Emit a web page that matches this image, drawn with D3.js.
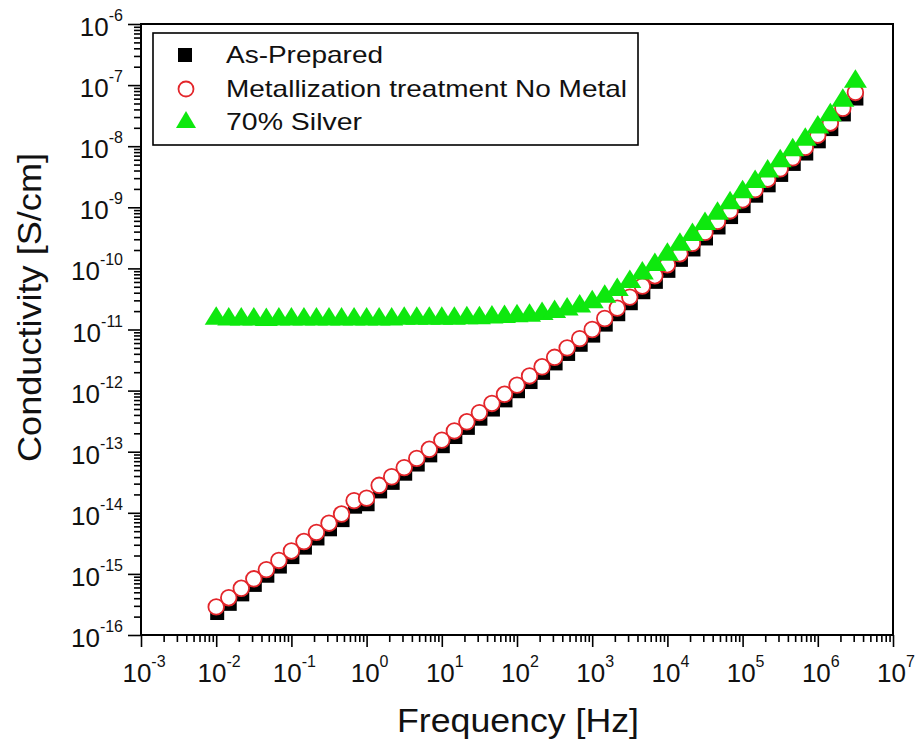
<!DOCTYPE html>
<html>
<head>
<meta charset="utf-8">
<script src="https://cdn.jsdelivr.net/npm/d3@7/dist/d3.min.js"></script>
<style>
  html, body { margin: 0; padding: 0; background: #fff; }
  svg { display: block; font-family: "Liberation Sans", Arial, sans-serif; }
</style>
</head>
<body>
<svg id="chart" width="915" height="751"></svg>
<script>
// ---- data ----
const frequencyHz = [
  0.01, 0.01468, 0.02154, 0.03162, 0.04642, 0.06813,
  0.1, 0.1468, 0.2154, 0.3162, 0.4642, 0.6813,
  1, 1.468, 2.154, 3.162, 4.642, 6.813,
  10, 14.68, 21.54, 31.62, 46.42, 68.13,
  100, 146.8, 215.4, 316.2, 464.2, 681.3,
  1000, 1468, 2154, 3162, 4642, 6813,
  1e4, 1.468e4, 2.154e4, 3.162e4, 4.642e4, 6.813e4,
  1e5, 1.468e5, 2.154e5, 3.162e5, 4.642e5, 6.813e5,
  1e6, 1.468e6, 2.154e6, 3.162e6
];
// log10 of conductivity [S/cm]
const logAsPrepared = [
  -15.64,-15.49,-15.335,-15.18,-15.03,-14.88,
  -14.725,-14.57,-14.42,-14.27,-14.12,-13.90,
  -13.86,-13.65,-13.51,-13.36,-13.21,-13.06,
  -12.91,-12.76,-12.61,-12.46,-12.31,-12.16,
  -12.01,-11.86,-11.71,-11.555,-11.40,-11.25,
  -11.10,-10.92,-10.75,-10.57,-10.39,-10.22,
  -10.04,-9.86,-9.69,-9.51,-9.33,-9.16,
  -8.98,-8.81,-8.64,-8.47,-8.29,-8.12,
  -7.92,-7.72,-7.48,-7.22
];
const logNoMetal = [
  -15.54,-15.39,-15.235,-15.08,-14.93,-14.78,
  -14.625,-14.47,-14.32,-14.17,-14.02,-13.80,
  -13.76,-13.55,-13.41,-13.26,-13.11,-12.96,
  -12.81,-12.66,-12.51,-12.36,-12.21,-12.06,
  -11.91,-11.76,-11.61,-11.455,-11.30,-11.15,
  -11.00,-10.82,-10.65,-10.47,-10.29,-10.12,
  -9.94,-9.76,-9.59,-9.41,-9.23,-9.06,
  -8.88,-8.71,-8.54,-8.37,-8.19,-8.02,
  -7.82,-7.62,-7.38,-7.12
];
const logSilver70 = [
  -10.80,-10.81,-10.81,-10.81,-10.82,-10.81,
  -10.81,-10.81,-10.81,-10.81,-10.81,-10.81,
  -10.81,-10.81,-10.81,-10.80,-10.80,-10.80,
  -10.80,-10.80,-10.79,-10.79,-10.78,-10.77,
  -10.76,-10.75,-10.72,-10.69,-10.65,-10.60,
  -10.53,-10.44,-10.33,-10.20,-10.06,-9.92,
  -9.75,-9.59,-9.43,-9.25,-9.08,-8.91,
  -8.73,-8.56,-8.39,-8.22,-8.04,-7.87,
  -7.67,-7.47,-7.23,-6.92
];
const xTickExponents = [-3,-2,-1,0,1,2,3,4,5,6,7];
const yTickExponents = [-16,-15,-14,-13,-12,-11,-10,-9,-8,-7,-6];
const seriesNames = ["As-Prepared", "Metallization treatment No Metal", "70% Silver"];
const xTitle = "Frequency [Hz]";
const yTitle = "Conductivity [S/cm]";

// ---- layout ----
const svg = d3.select("#chart");
const L = 141, R = 893, T = 24, B = 635;
const x = d3.scaleLog().domain([1e-3, 1e7]).range([L, R]);
const y = d3.scaleLog().domain([1e-16, 1e-6]).range([B, T]);

const GREEN = "#0ee80e", RED = "#e3262b";

// minor tick values
function minors(exps) {
  const out = [];
  for (let i = 0; i < exps.length - 1; i++)
    for (let m = 2; m <= 9; m++) out.push(m * Math.pow(10, exps[i]));
  return out;
}

// axes
const xMajor = xTickExponents.map(e => Math.pow(10, e));
const yMajor = yTickExponents.map(e => Math.pow(10, e));

const gx = svg.append("g").attr("transform", `translate(0,${B})`);
gx.call(d3.axisBottom(x).tickValues(xMajor).tickFormat("").tickSize(12).tickSizeOuter(0));
const gxm = svg.append("g").attr("transform", `translate(0,${B})`);
gxm.call(d3.axisBottom(x).tickValues(minors(xTickExponents)).tickFormat("").tickSize(7).tickSizeOuter(0));

const gy = svg.append("g").attr("transform", `translate(${L},0)`);
gy.call(d3.axisLeft(y).tickValues(yMajor).tickFormat("").tickSize(13).tickSizeOuter(0));
const gym = svg.append("g").attr("transform", `translate(${L},0)`);
gym.call(d3.axisLeft(y).tickValues(minors(yTickExponents)).tickFormat("").tickSize(7).tickSizeOuter(0));

[gx, gxm, gy, gym].forEach(g => {
  g.selectAll(".domain").remove();
  g.selectAll(".tick line").attr("stroke", "#000").attr("stroke-width", 1.6);
});

// frame
svg.append("rect").attr("x", L).attr("y", T).attr("width", R - L).attr("height", B - T)
  .attr("fill", "none").attr("stroke", "#000").attr("stroke-width", 2);

// tick labels
xTickExponents.forEach(e => {
  const t = svg.append("text").attr("x", x(Math.pow(10, e)) + 3).attr("y", 682)
    .attr("text-anchor", "middle").attr("font-size", 26).attr("fill", "#111");
  t.append("tspan").text("10");
  t.append("tspan").attr("dy", -15).attr("font-size", 16).text(String(e));
});
yTickExponents.forEach(e => {
  const t = svg.append("text").attr("x", 123).attr("y", y(Math.pow(10, e)) + 12)
    .attr("text-anchor", "end").attr("font-size", 26).attr("fill", "#111");
  t.append("tspan").text("10");
  t.append("tspan").attr("dy", -15).attr("font-size", 16).text(String(e));
});

// axis titles
svg.append("text").attr("x", 397).attr("y", 732).attr("font-size", 34).attr("fill", "#111")
  .attr("textLength", 242).attr("lengthAdjust", "spacingAndGlyphs").text(xTitle);
svg.append("text").attr("transform", "translate(41,462) rotate(-90)").attr("font-size", 34)
  .attr("fill", "#111").attr("textLength", 309).attr("lengthAdjust", "spacingAndGlyphs").text(yTitle);

// data
const toPts = logs => frequencyHz.map((f, i) => ({ f, s: Math.pow(10, logs[i]) }));
const SQ = 14;
svg.append("g").selectAll("rect").data(toPts(logAsPrepared)).join("rect")
  .attr("x", d => x(d.f) - SQ / 2 + 1).attr("y", d => y(d.s) - SQ / 2)
  .attr("width", SQ).attr("height", SQ).attr("fill", "#000");

svg.append("g").selectAll("circle").data(toPts(logNoMetal)).join("circle")
  .attr("cx", d => x(d.f)).attr("cy", d => y(d.s)).attr("r", 7.8)
  .attr("fill", "#fff").attr("stroke", RED).attr("stroke-width", 1.8);

const tri = "M0,-11L11.5,7.5L-11.5,7.5Z";
svg.append("g").selectAll("path").data(toPts(logSilver70)).join("path")
  .attr("transform", d => `translate(${x(d.f)},${y(d.s)})`)
  .attr("d", tri).attr("fill", GREEN);

// legend
const lg = svg.append("g");
lg.append("rect").attr("x", 153).attr("y", 33).attr("width", 485).attr("height", 112)
  .attr("fill", "#fff").attr("stroke", "#000").attr("stroke-width", 1.6);
const rows = [55, 89, 122];
lg.append("rect").attr("x", 185 - 7).attr("y", rows[0] - 7).attr("width", 14).attr("height", 14).attr("fill", "#000");
lg.append("circle").attr("cx", 186).attr("cy", rows[1]).attr("r", 7.5).attr("fill", "#fff")
  .attr("stroke", RED).attr("stroke-width", 1.8);
lg.append("path").attr("transform", `translate(186,${rows[2] - 1})`).attr("d", "M0,-10L10,7L-10,7Z").attr("fill", GREEN);
const legendWidths = [157, 401, 136];
seriesNames.forEach((n, i) => {
  lg.append("text").attr("x", 226).attr("y", rows[i] + 8).attr("font-size", 24).attr("fill", "#111")
    .attr("textLength", legendWidths[i]).attr("lengthAdjust", "spacingAndGlyphs").text(n);
});
</script>
</body>
</html>
